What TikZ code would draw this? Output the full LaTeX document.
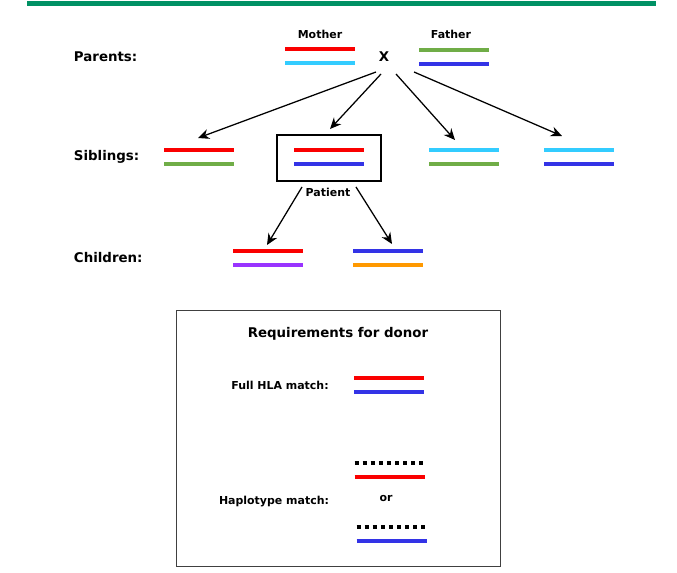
\documentclass[tikz,border=0pt]{standalone}
\usepackage{fontspec}
\setmainfont{DejaVu Sans}
\usepackage{xcolor}
\usetikzlibrary{arrows.meta, positioning, calc}

\definecolor{hlared}{RGB}{250,0,0}
\definecolor{hlacyan}{RGB}{51,204,255}
\definecolor{hlagreen}{RGB}{112,173,71}
\definecolor{hlablue}{RGB}{51,51,230}
\definecolor{hlapurple}{RGB}{153,51,255}
\definecolor{hlaorange}{RGB}{255,153,0}
\definecolor{bargreen}{RGB}{0,145,100}

% one pair of haplotypes: name, centre, upper line, lower line
\newcommand{\hapair}[4]{%
  \node[pair] (#1) at (#2) {};
  \draw[allele,#3] ([shift={(-35,-7)}]#1.center) -- ++(70,0);
  \draw[allele,#4] ([shift={(-35,7)}]#1.center) -- ++(70,0);
}

\begin{document}
\begin{tikzpicture}[
    x=0.025cm, y=-0.025cm,
    arr/.style={-{Stealth[length=2.8mm,width=2.5mm]}, line width=0.9pt},
    allele/.style={line width=1mm},
    dots/.style={black, dash pattern=on 1mm off 1.03mm},
    pair/.style={minimum width=1.75cm, minimum height=0.9cm, inner sep=0pt},
    lbl/.style={font=\bfseries\fontsize{9.5}{11}\selectfont},
    small/.style={font=\bfseries\fontsize{7.8}{9}\selectfont}
]
\useasboundingbox (0,0) rectangle (677,572);
\fill[bargreen] (27,1) rectangle (656,6);

% Parents
\node[lbl, anchor=west] (parents) at (69,57) {Parents:};
\hapair{mother}{320,56}{hlared}{hlacyan}
\hapair{father}{454,56.5}{hlagreen}{hlablue}
\node[small] (mlab) at (320,34) {Mother};
\node[small] (flab) at (451,34) {Father};
\node[lbl] (cross) at (384,57) {X};

% Siblings
\node[lbl, anchor=west] (siblings) at (69,157) {Siblings:};
\hapair{sibA}{199,157}{hlared}{hlagreen}
\node[draw, line width=1.4pt, minimum width=2.6cm, minimum height=1.15cm] (patbox) at (329,158) {};
\hapair{patient}{329,157}{hlared}{hlablue}
\node[small] (plab) at (328,192) {Patient};
\hapair{sibC}{464,157}{hlacyan}{hlagreen}
\hapair{sibD}{579,157}{hlacyan}{hlablue}

% Children
\node[lbl, anchor=west] (children) at (69,258) {Children:};
\hapair{kidA}{268,257.5}{hlared}{hlapurple}
\hapair{kidB}{388,257.5}{hlablue}{hlaorange}

% Inheritance
\draw[arr] ([shift={(-8,15)}]cross.center) -- ([shift={(-1,-19)}]sibA.center);
\draw[arr] ([shift={(-3,17)}]cross.center) -- ([shift={(1,-5)}]patbox.north);
\draw[arr] ([shift={(12,17)}]cross.center) -- ([shift={(-9,-17)}]sibC.center);
\draw[arr] ([shift={(30,15)}]cross.center) -- ([shift={(-17,-21)}]sibD.center);
\draw[arr] ([shift={(-27,5)}]patbox.south) -- ([shift={(-1,-12.5)}]kidA.center);
\draw[arr] ([shift={(27,5)}]patbox.south) -- ([shift={(4,-13.5)}]kidB.center);

% Donor box
\node[draw=black!75, line width=0.6pt, minimum width=8.1cm, minimum height=6.4cm] (req) at (338,438) {};
\node[lbl] (reqtitle) at (338,334) {Requirements for donor};
\node[small] (fulllab) at (280,385) {Full HLA match:};
\hapair{full}{389,385}{hlared}{hlablue}
\hapair{hapA}{389.5,470}{dots}{hlared}
\node[small] (orlab) at (386,498) {or};
\node[small] (haplab) at (274,502) {Haplotype match:};
\hapair{hapB}{391.5,533.5}{dots}{hlablue}

\end{tikzpicture}
\end{document}
